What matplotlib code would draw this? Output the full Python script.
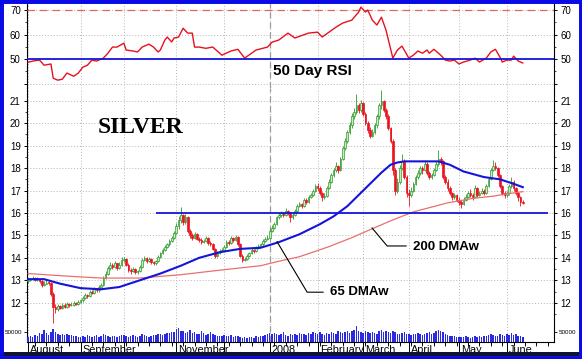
import numpy as np
import matplotlib
matplotlib.use("Agg")
import matplotlib.pyplot as plt
import matplotlib.transforms as mtransforms
from matplotlib.patches import Rectangle

plt.rcParams['font.family'] = ['Liberation Sans', 'DejaVu Sans']

# daily silver prices, Aug 2007 - Jun 2008, x = trading day index
first_open = 12.95
close = [
    13.00, 13.05, 13.10, 13.02, 13.08, 12.95, 12.80, 12.85, 12.90, 12.88, 12.40, 11.80, 11.70, 11.85, 11.78, 11.90, 11.82, 11.95, 11.88, 11.92, 12.00, 11.95, 12.05,
    12.10, 12.20, 12.35, 12.30, 12.50, 12.45, 12.60, 12.55, 12.70, 12.80, 13.10, 13.30, 13.55, 13.70, 13.60, 13.75, 13.55, 13.70, 13.90,
    13.95, 13.70, 13.45, 13.40, 13.50, 13.35, 13.40, 13.60, 13.90, 14.00, 13.85, 13.95, 13.80, 13.75, 13.85, 14.05, 14.20, 14.35, 14.50, 14.60, 14.75, 14.90, 15.10,
    15.40, 15.70, 15.90, 15.60, 15.80, 15.20, 15.00, 14.90, 15.05, 14.85, 14.80, 14.70, 14.75, 14.90, 14.65, 14.60, 14.40, 14.10, 14.20, 14.30, 14.35,
    14.50, 14.70, 14.65, 14.90, 14.80, 14.95, 14.60, 14.10, 13.90, 13.95, 14.10, 14.20, 14.35, 14.30, 14.45, 14.55, 14.60, 14.75, 14.85, 14.90,
    15.20, 15.35, 15.50, 15.80, 15.90, 16.00, 15.90, 16.10, 16.00, 15.80, 15.90, 16.10, 16.30, 16.40, 16.30, 16.60, 16.50, 16.70, 16.80, 17.00, 17.20,
    17.10, 16.90, 16.70, 16.75, 17.10, 17.40, 17.70, 17.90, 18.10, 17.90, 18.40, 18.90, 19.20, 19.60, 19.90, 20.30, 20.50, 20.80, 20.60, 20.90,
    20.40, 20.00, 19.70, 19.45, 19.60, 19.90, 20.30, 20.80, 21.00, 20.60, 20.30, 19.80, 19.20, 17.90, 17.00, 17.40, 18.00, 18.30, 17.60, 16.90,
    16.80, 17.00, 17.30, 17.60, 17.80, 18.00, 17.90, 18.20, 17.80, 17.60, 17.70, 17.90, 18.20, 18.40, 18.30, 17.60, 17.40, 17.10, 16.90, 16.70, 16.80, 16.60,
    16.50, 16.40, 16.60, 16.70, 16.90, 16.80, 16.70, 17.10, 16.80, 16.90, 17.00, 16.90, 17.20, 17.50, 17.90, 18.10, 18.00, 17.70, 17.20, 16.90, 16.80,
    16.90, 17.20, 17.40, 17.10, 16.90, 16.70, 16.50, 16.45,
]
high = [
    13.10, 13.12, 13.18, 13.15, 13.15, 13.12, 13.00, 12.95, 13.00, 12.98, 12.92, 12.50, 11.95, 11.95, 11.92, 12.00, 11.98, 12.02, 12.00, 12.02, 12.08, 12.05, 12.12,
    12.18, 12.28, 12.42, 12.40, 12.58, 12.55, 12.68, 12.65, 12.78, 12.90, 13.18, 13.40, 13.65, 13.80, 13.75, 13.85, 13.78, 13.80, 14.05,
    14.05, 14.00, 13.78, 13.55, 13.58, 13.55, 13.48, 13.68, 13.98, 14.10, 14.05, 14.02, 13.98, 13.88, 13.92, 14.12, 14.28, 14.42, 14.58, 14.68, 14.82, 14.98, 15.20,
    15.55, 15.85, 16.25, 15.95, 15.95, 15.85, 15.30, 15.10, 15.15, 15.10, 14.95, 14.88, 14.85, 14.98, 14.95, 14.75, 14.65, 14.45, 14.30, 14.40, 14.45,
    14.58, 14.78, 14.80, 14.98, 14.95, 15.02, 14.98, 14.65, 14.15, 14.05, 14.18, 14.28, 14.42, 14.40, 14.52, 14.62, 14.68, 14.82, 14.92, 15.00,
    15.30, 15.45, 15.60, 15.88, 16.00, 16.10, 16.05, 16.20, 16.15, 16.05, 15.98, 16.18, 16.38, 16.50, 16.45, 16.68, 16.65, 16.78, 16.88, 17.08, 17.30,
    17.35, 17.20, 16.95, 16.88, 17.20, 17.50, 17.80, 18.00, 18.25, 18.15, 18.50, 19.00, 19.35, 19.70, 20.05, 20.45, 20.70, 21.30, 20.90, 21.05,
    20.95, 20.50, 20.10, 19.85, 19.75, 20.00, 20.40, 20.90, 21.50, 21.05, 20.70, 20.40, 19.85, 19.30, 18.00, 17.55, 18.15, 18.65, 18.40, 17.70,
    17.05, 17.15, 17.40, 17.70, 17.90, 18.10, 18.10, 18.35, 18.25, 17.85, 17.80, 18.00, 18.30, 18.80, 18.50, 18.35, 17.70, 17.50, 17.20, 16.95, 16.90, 16.85,
    16.70, 16.60, 16.72, 16.85, 17.00, 17.05, 16.90, 17.25, 17.15, 17.00, 17.10, 17.05, 17.30, 17.60, 18.00, 18.35, 18.25, 18.05, 17.75, 17.25, 17.00,
    17.00, 17.30, 17.60, 17.45, 17.15, 16.95, 16.75, 16.60,
]
low = [
    12.90, 12.95, 13.00, 12.95, 12.98, 12.88, 12.72, 12.75, 12.82, 12.80, 12.30, 11.10, 11.55, 11.62, 11.70, 11.72, 11.75, 11.78, 11.82, 11.84, 11.86, 11.88, 11.90,
    12.00, 12.05, 12.15, 12.22, 12.25, 12.38, 12.40, 12.48, 12.50, 12.65, 12.75, 13.05, 13.25, 13.48, 13.50, 13.55, 13.48, 13.50, 13.65,
    13.82, 13.62, 13.38, 13.30, 13.35, 13.28, 13.30, 13.35, 13.55, 13.85, 13.78, 13.80, 13.72, 13.68, 13.70, 13.80, 14.00, 14.15, 14.30, 14.45, 14.55, 14.70, 14.85,
    15.05, 15.30, 15.55, 15.45, 15.50, 15.10, 14.90, 14.80, 14.85, 14.78, 14.70, 14.62, 14.65, 14.70, 14.58, 14.52, 14.35, 14.00, 14.02, 14.15, 14.25,
    14.28, 14.45, 14.58, 14.60, 14.72, 14.75, 14.52, 14.02, 13.80, 13.85, 13.90, 14.05, 14.15, 14.22, 14.25, 14.40, 14.48, 14.55, 14.70, 14.78,
    14.85, 15.15, 15.30, 15.45, 15.75, 15.82, 15.80, 15.85, 15.92, 15.60, 15.72, 15.85, 16.05, 16.25, 16.20, 16.28, 16.42, 16.45, 16.65, 16.75, 16.95,
    16.98, 16.80, 16.55, 16.62, 16.70, 17.05, 17.35, 17.62, 17.82, 17.80, 17.85, 18.35, 18.80, 19.10, 19.50, 19.80, 20.20, 20.40, 20.45, 20.50,
    20.30, 19.90, 19.55, 19.35, 19.38, 19.50, 19.80, 20.20, 20.65, 20.50, 20.20, 19.70, 19.10, 17.70, 16.80, 16.90, 17.30, 17.90, 17.50, 16.70,
    16.30, 16.70, 16.95, 17.25, 17.50, 17.70, 17.75, 17.85, 17.70, 17.50, 17.52, 17.65, 17.85, 18.10, 18.15, 17.50, 17.30, 17.00, 16.80, 16.60, 16.62, 16.50,
    16.35, 16.20, 16.35, 16.55, 16.65, 16.70, 16.60, 16.68, 16.70, 16.75, 16.85, 16.80, 16.85, 17.15, 17.45, 17.85, 17.90, 17.60, 17.10, 16.80, 16.65,
    16.70, 16.82, 17.10, 17.00, 16.80, 16.55, 16.30, 16.38,
]
# volume in thousands
volume = [
    28, 32, 25, 38, 30, 45, 40, 62, 48, 35, 55, 70, 52, 44, 38, 42, 36, 40, 35, 38, 30, 33, 28,
    25, 30, 28, 35, 32, 26, 30, 38, 28, 33, 40, 36, 30, 28, 34, 30, 26, 32, 38,
    35, 30, 28, 34, 36, 30, 26, 32, 40, 35, 30, 28, 34, 38, 36, 40, 44, 38, 42, 48, 45, 52, 50,
    66, 72, 58, 60, 48, 55, 62, 45, 50, 40, 42, 58, 46, 38, 44, 50, 40, 36, 32, 34, 30,
    36, 32, 30, 38, 28, 34, 30, 26, 22, 24, 20, 26, 28, 22, 30, 26, 34, 30, 38, 42,
    45, 40, 48, 42, 36, 44, 50, 38, 34, 40, 36, 42, 38, 46, 40, 44, 36, 48, 42, 52, 46,
    40, 50, 44, 38, 46, 42, 55, 48, 44, 58, 50, 46, 52, 60, 48, 56, 64, 82, 60, 50,
    48, 58, 54, 46, 52, 48, 44, 56, 62, 52, 58, 50, 48, 60, 54, 44, 40, 46, 52, 44,
    42, 38, 44, 40, 46, 42, 36, 44, 48, 52, 44, 48, 56, 64, 58, 50, 42, 38, 34, 30, 32, 28,
    26, 24, 28, 30, 26, 22, 28, 30, 26, 32, 28, 30, 34, 38, 40, 36, 30, 32, 44, 38, 30,
    40, 36, 48, 38, 42, 30, 34, 26,
]

ma65_idx = [0, 7, 14, 23, 32, 40, 49, 58, 67, 75, 84, 93, 102, 110, 119, 128, 134, 140, 146, 150, 155, 159, 162, 165, 172, 180, 185, 191, 200, 207, 213, 217]
ma65_val = [13.05, 13.05, 12.85, 12.65, 12.6, 12.7, 13.0, 13.3, 13.65, 14.0, 14.25, 14.4, 14.45, 14.7, 15.05, 15.5, 15.85, 16.3, 16.9, 17.3, 17.8, 18.15, 18.25, 18.3, 18.3, 18.3, 18.15, 17.85, 17.6, 17.5, 17.3, 17.15]

ma200_idx = [0, 12, 23, 32, 49, 67, 84, 102, 110, 119, 132, 142, 151, 159, 169, 184, 195, 204, 210, 217]
ma200_val = [13.3, 13.22, 13.15, 13.1, 13.1, 13.25, 13.45, 13.65, 13.85, 14.05, 14.5, 14.9, 15.3, 15.65, 16.05, 16.45, 16.65, 16.75, 16.85, 16.95]

rsi_idx = [0, 2, 5, 7, 10, 11, 13, 15, 17, 20, 22, 24, 26, 28, 30, 33, 35, 37, 39, 42,
           43, 46, 48, 50, 53, 55, 57, 58, 60, 61, 63, 64, 66, 68, 70, 72, 73, 75, 78, 81,
           85, 89, 92, 95, 100, 105, 107, 110, 114, 117, 123, 127, 129, 132, 135, 138, 142, 145, 146, 148,
           149, 151, 153, 155, 157, 160, 162, 164, 165, 167, 169, 171, 173, 175, 176, 178, 181, 183, 185, 187,
           189, 191, 194, 196, 198, 201, 203, 205, 207, 208, 210, 212, 213, 215, 216, 217]
rsi_val = [48.7, 49.2, 49.6, 47.5, 48.0, 42.2, 41.4, 41.8, 44.3, 43.0, 44.3, 46.7, 47.5, 49.6, 49.2, 50.4, 52.4, 54.9, 54.9, 56.5,
           53.7, 53.3, 52.9, 54.9, 56.1, 54.9, 52.9, 53.7, 57.8, 59.0, 57.0, 58.6, 59.0, 62.6, 60.6, 60.6, 54.9, 54.9, 54.4, 54.9,
           51.6, 53.3, 54.0, 50.4, 53.7, 54.9, 56.9, 57.8, 60.6, 58.6, 60.6, 61.0, 59.0, 61.0, 63.0, 64.7, 65.9, 69.2, 71.2, 69.2,
           70.0, 65.9, 63.9, 67.1, 61.8, 50.4, 53.7, 55.3, 53.7, 50.4, 51.6, 53.3, 52.4, 53.7, 52.4, 54.0, 51.6, 49.6, 49.2, 49.6,
           48.0, 48.8, 49.6, 50.4, 48.8, 50.4, 52.9, 54.0, 50.8, 48.8, 49.6, 49.6, 51.2, 49.2, 48.8, 48.4]

month_idx = [0, 23, 42, 65, 86, 106, 127, 147, 167, 189, 210]
month_labels = ['August', 'September', '', 'November', '', '2008', 'February', 'March', 'April', 'May', 'June']

support_level = 16
support_start = 56

close = np.array(close)
x = np.arange(len(close))
opens = np.r_[first_open, close[:-1]]
high = np.maximum(np.array(high), np.maximum(opens, close))
low = np.minimum(np.array(low), np.minimum(opens, close))
up = close >= opens

W, H = 582, 359
fig = plt.figure(figsize=(W / 100, H / 100), dpi=100)


def box(x0, y0, x1, y1):
    return [x0 / W, 1 - y1 / H, (x1 - x0) / W, (y1 - y0) / H]


ax_rsi = fig.add_axes(box(27, 2, 554, 88))
ax = fig.add_axes(box(27, 88, 554, 342), sharex=ax_rsi)
ax_vol = fig.add_axes(box(27, 322, 554, 342), sharex=ax)

grid_kw = dict(color='#b4b4b4', linestyle=(0, (1, 2)), linewidth=0.7)
blue = '#1414dc'

# RSI panel
ax_rsi.plot(rsi_idx, rsi_val, color='#e8101e', lw=1.0, zorder=4)
ax_rsi.axhline(50, color=blue, lw=1.3, zorder=5)
ax_rsi.axhline(70, color='#e06a5a', lw=0.9, ls=(0, (6, 4)), zorder=3)
ax_rsi.set_ylim(38.2, 73.3)
ax_rsi.set_yticks([40, 50, 60, 70], labels=['', '50', '60', '70'])
ax_rsi.set_yticks([45, 55, 65], minor=True)
ax_rsi.text(124.6, 45.1, '50 Day RSI', ha='center', va='center', fontsize=11, fontweight='bold')

# price panel
green_edge, green_fill, red = '#2f9a2f', '#c6ecbe', '#e8141e'
ax.vlines(x, low, high, colors=np.where(up, green_edge, red), lw=0.6, zorder=3)
body = np.maximum(np.abs(close - opens), 0.03)
ax.bar(x, body, bottom=np.minimum(opens, close), width=0.72,
       color=np.where(up, green_fill, red), edgecolor=np.where(up, green_edge, red),
       lw=0.5, zorder=4)
ax.plot(ma200_idx, ma200_val, color='#e87070', lw=0.9, zorder=5)
ax.plot(ma65_idx, ma65_val, color=blue, lw=1.5, zorder=6)
ax.hlines(support_level, support_start, 228, color=blue, lw=1.3, zorder=6)
ax.set_ylim(10.25, 21.57)
ax.set_yticks(range(12, 22))
ax.set_yticks(np.arange(11.5, 21.5, 0.5), minor=True)

ax.text(49.5, 19.83, 'SILVER', family='Liberation Serif', fontsize=17, fontweight='bold',
        ha='center', va='center')
ax.plot([150.9, 157.5, 165.8], [15.33, 14.53, 14.53], color='black', lw=0.8, zorder=7)
ax.text(168.9, 14.5, '200 DMAw', fontsize=9.5, fontweight='bold', va='center')
ax.plot([109.2, 122.4, 129.4], [14.72, 12.47, 12.47], color='black', lw=0.8, zorder=7)
ax.text(132.5, 12.48, '65 DMAw', fontsize=9.5, fontweight='bold', va='center')

# volume
ax_vol.bar(x, np.array(volume) * 1000, width=0.65, color='#2a2ae0', lw=0)
ax_vol.set_ylim(0, 105000)
ax_vol.set_yticks([50000], labels=['50000'])
ax_vol.patch.set_visible(False)
for s in ax_vol.spines.values():
    s.set_visible(False)
ax_vol.tick_params(axis='x', bottom=False, labelbottom=False)
ax_vol.tick_params(axis='y', left=True, right=True, labelleft=True, labelright=True,
                   length=2, width=0.6, labelsize=4.5, pad=1.5)

ax.set_xlim(-0.5, 230.7)
ax.set_xticks(month_idx)
ax.set_xticklabels([])
ax.set_xticks(np.arange(3, 231, 5), minor=True)
ax.tick_params(axis='x', which='major', direction='out', length=9, width=0.7)
ax.tick_params(axis='x', which='minor', direction='out', length=3, width=0.6)
ax_rsi.tick_params(axis='x', which='both', bottom=False, labelbottom=False)

trans = mtransforms.blended_transform_factory(ax.transData, ax.transAxes)
for m, lab in zip(month_idx, month_labels):
    ax.text(m + 0.9, -0.012, lab, transform=trans, ha='left', va='top', fontsize=7.8)

for a in (ax_rsi, ax):
    a.grid(True, which='major', **grid_kw)
    a.set_axisbelow(True)
    a.axvline(106, color='#9a9a9a', lw=0.9, ls=(0, (5, 3)), zorder=2)
    a.tick_params(axis='y', which='major', left=True, right=True, labelleft=True, labelright=True,
                  direction='out', length=2.5, width=0.7, labelsize=7, pad=2)
    a.tick_params(axis='y', which='minor', left=True, right=True, direction='out', length=1.5, width=0.5)
    for s in a.spines.values():
        s.set_linewidth(0.8)
ax_rsi.spines['bottom'].set_visible(False)
ax_rsi.spines['top'].set_visible(False)
ax.spines['top'].set_visible(False)

# blue picture frame with dark band along the bottom
fig.patches.append(Rectangle((0, 3 / H), 1, 4 / H, transform=fig.transFigure,
                             facecolor='#101030', edgecolor='none', zorder=10))
fig.patches.append(Rectangle((0, 0), 1, 1, transform=fig.transFigure, fill=False,
                             edgecolor='#0a0ae6', lw=5, zorder=11))

fig.savefig('out.png', dpi=100)
